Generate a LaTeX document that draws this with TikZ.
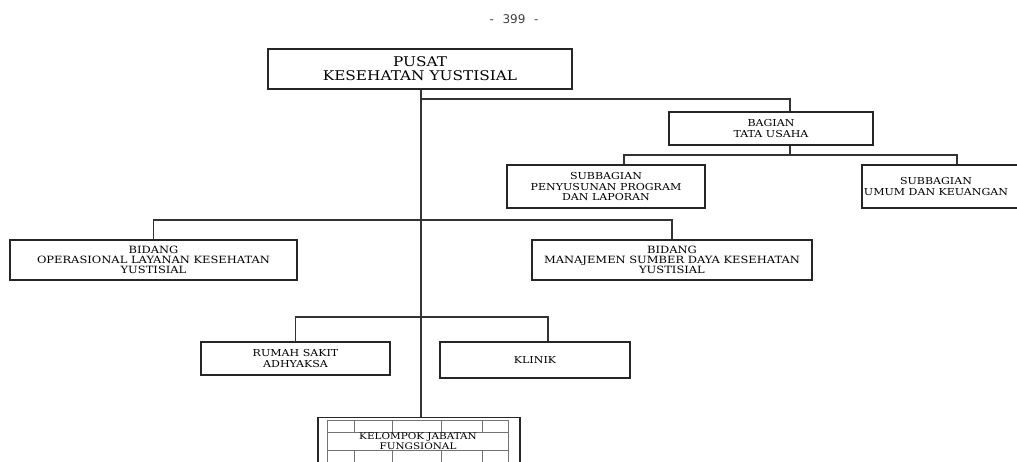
\documentclass[tikz,border=0pt]{standalone}
\usepackage{fontspec}
\newfontfamily\orgfont{DejaVu Serif}[FakeStretch=1.15]
\newfontfamily\pagefont{DejaVu Sans}
\begin{document}
\begin{tikzpicture}[x=0.75pt, y=-0.75pt,
    unit/.style={draw=black!85, line width=0.9pt, fill=white, inner sep=0pt, align=center,
      font=\orgfont\fontsize{7.2}{7.6}\selectfont},
    link/.style={draw=black!80, line width=0.8pt},
    grid/.style={draw=black!55, line width=0.5pt}]
  \useasboundingbox (0,0) rectangle (1017,461);
  \clip (0,0) rectangle (1017,461);

  \node[font=\pagefont\fontsize{9}{11}\selectfont, text=black!75] (page) at (514,19) {-\hspace{6.5pt}399\hspace{6.5pt}-};

  \node[unit, minimum width=228pt, minimum height=30pt, font=\orgfont\fontsize{10}{10.5}\selectfont] (pusat) at (420,69) {PUSAT\\KESEHATAN YUSTISIAL};
  \node[unit, minimum width=153pt, minimum height=24.75pt, font=\orgfont\fontsize{7.2}{8.2}\selectfont] (bagian) at (771,128.5) {BAGIAN\\TATA USAHA};
  \node[unit, minimum width=148.5pt, minimum height=32.25pt] (subprog) at (606,186.5) {SUBBAGIAN\\PENYUSUNAN PROGRAM\\DAN LAPORAN};
  \node[unit, minimum width=150pt, minimum height=32.25pt,
    label={[unit, draw=none, fill=none, xshift=-19.5pt]center:SUBBAGIAN\\UMUM DAN KEUANGAN}] (subumum) at (962,186.5) {};

  \node[unit, minimum width=215.25pt, minimum height=30pt, font=\orgfont\fontsize{7.5}{7.6}\selectfont] (bidops) at (153.5,260) {BIDANG\\OPERASIONAL LAYANAN KESEHATAN\\YUSTISIAL};
  \node[unit, minimum width=210pt, minimum height=30pt, font=\orgfont\fontsize{7.5}{7.6}\selectfont] (bidsdm) at (672,260) {BIDANG\\MANAJEMEN SUMBER DAYA KESEHATAN\\YUSTISIAL};

  \node[unit, minimum width=141.75pt, minimum height=24.75pt] (rsa) at (295.5,358.5) {RUMAH SAKIT\\ADHYAKSA};
  \node[unit, minimum width=142.5pt, minimum height=27pt] (klinik) at (535,360) {KLINIK};

  \node[unit, minimum width=151.5pt, minimum height=47.25pt, anchor=north] (kjf) at (419,417) {};
  \draw[grid] (327,470) -- (327,420) -- (508,420) -- (508,470);
  \draw[grid] (327,432) -- (508,432);
  \draw[grid] (327,450) -- (508,450);
  \foreach \gx in {354,392,441,482} {
    \draw[grid] (\gx,420) -- (\gx,432);
    \draw[grid] (\gx,450) -- (\gx,470);
  }
  \node[unit, draw=none, fill=none, font=\orgfont\fontsize{6.8}{7.2}\selectfont] (kjftext) at (418,441) {KELOMPOK JABATAN\\FUNGSIONAL};

  \coordinate (tu) at (790,99);
  \coordinate (sub) at (790,155);
  \coordinate (subl) at (624,155);
  \coordinate (subr) at (957,155);
  \coordinate (bid) at (421,220);
  \coordinate (unitrow) at (421,317);
  \coordinate (kl) at (548,317);

  \draw[link] (pusat.south -| bid) -- (kjf.north -| bid);
  \draw[link] (bid |- tu) -- (tu) -- (tu |- bagian.north);
  \draw[link] (tu |- bagian.south) -- (sub);
  \draw[link] (subl |- subprog.north) -- (subl) -- (subr) -- (subr |- subumum.north);
  \draw[link] (bidops.north) -- (bidops.north |- bid) -- (bidsdm.north |- bid) -- (bidsdm.north);
  \draw[link] (rsa.north) -- (rsa.north |- unitrow) -- (kl) -- (kl |- klinik.north);
\end{tikzpicture}
\end{document}
